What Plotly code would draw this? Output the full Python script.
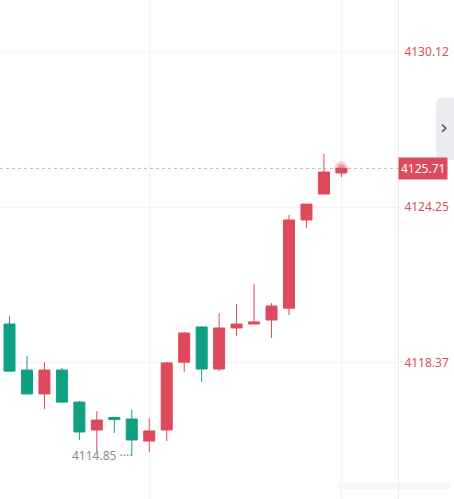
import plotly.graph_objects as go

# ---- data ----
idx = list(range(20))
opens  = [4119.83, 4118.09, 4117.19, 4118.09, 4116.88, 4115.83, 4116.30, 4116.24, 4115.41, 4115.83,
          4118.39, 4119.72, 4118.13, 4119.68, 4119.83, 4119.98, 4120.43, 4123.76, 4124.74, 4125.54]
highs  = [4120.13, 4118.62, 4118.39, 4118.17, 4116.92, 4116.54, 4116.30, 4116.58, 4116.28, 4118.39,
          4119.53, 4119.74, 4120.25, 4120.59, 4121.34, 4120.62, 4123.95, 4124.37, 4126.25, 4125.73]
lows   = [4118.03, 4117.17, 4116.62, 4116.86, 4115.45, 4115.03, 4115.71, 4114.85, 4114.99, 4115.41,
          4118.02, 4117.64, 4118.05, 4119.38, 4119.82, 4119.30, 4120.17, 4123.46, 4124.73, 4125.38]
closes = [4118.05, 4117.19, 4118.09, 4116.88, 4115.75, 4116.20, 4116.22, 4115.45, 4115.79, 4118.36,
          4119.49, 4118.13, 4119.68, 4119.83, 4119.91, 4120.51, 4123.76, 4124.36, 4125.57, 4125.71]
tick_vals = [4130.12, 4124.25, 4118.37]
tick_text = ["4130.12", "4124.25", "4118.37"]
grid_x = [8, 19]

RED = "#de4a5c"
GREEN = "#12a083"
LABEL = "#d4505e"

last_close = closes[-1]
low_val = min(lows)
low_i = lows.index(low_val)

fig = go.Figure()
fig.add_trace(go.Candlestick(
    x=idx, open=opens, high=highs, low=lows, close=closes,
    increasing=dict(line=dict(color=RED, width=1), fillcolor=RED),
    decreasing=dict(line=dict(color=GREEN, width=1), fillcolor=GREEN),
    whiskerwidth=0, hoverinfo="skip", showlegend=False,
))

# glow at the last price
fig.add_trace(go.Scatter(x=[idx[-1]], y=[last_close], mode="markers",
                         marker=dict(size=14, color="rgba(222,74,92,0.22)", line=dict(width=0)),
                         hoverinfo="skip", showlegend=False))
fig.add_trace(go.Scatter(x=[idx[-1]], y=[last_close], mode="markers",
                         marker=dict(size=8, color="rgba(222,74,92,0.45)", line=dict(width=0)),
                         hoverinfo="skip", showlegend=False))

shapes = [
    # dashed last price line
    dict(type="line", xref="paper", yref="y", x0=0, x1=1, y0=last_close, y1=last_close,
         line=dict(color="#eba3ad", width=1, dash="3px,3px"), layer="below"),
    # right side tab
    dict(type="path", xref="paper", yref="paper",
         path="M 1.16 0.804 L 1.11 0.804 Q 1.096 0.804 1.096 0.79 L 1.096 0.694 Q 1.096 0.68 1.11 0.68 L 1.16 0.68 Z",
         fillcolor="#ebebf0", line=dict(width=0), layer="below"),
    # faint watermark at the bottom right
    dict(type="rect", xref="paper", yref="paper", x0=0.85, x1=1.13, y0=0.02, y1=0.032,
         fillcolor="#f7f7f7", line=dict(width=0), layer="below"),
]

annotations = [
    dict(xref="paper", yref="y", x=1.0, y=last_close, text=f"{last_close:.2f}",
         showarrow=False, xanchor="left", yanchor="middle",
         font=dict(family="Noto Sans", size=12, color="white"),
         bgcolor=RED, borderpad=2, xshift=0),
    dict(xref="paper", yref="paper", x=1.115, y=0.745, text="›", showarrow=False,
         font=dict(family="DejaVu Sans", size=20, color="#555"), xanchor="center", yanchor="middle"),
    dict(xref="x", yref="y", x=idx[low_i], y=low_val, text=f"{low_val:.2f} ····",
         showarrow=False, xanchor="right", yanchor="middle", xshift=2,
         font=dict(family="Noto Sans", size=12, color="#8a8a8a")),
]

fig.update_layout(
    width=454, height=499,
    margin=dict(l=0, r=56, t=0, b=0),
    paper_bgcolor="white", plot_bgcolor="white",
    boxgap=0.37, boxgroupgap=0,
    shapes=shapes, annotations=annotations,
    hovermode=False,
    xaxis=dict(range=[-0.544, 22.24], rangeslider=dict(visible=False),
               tickvals=grid_x, showticklabels=False, showgrid=True,
               gridcolor="#f4f4f4", gridwidth=1, zeroline=False, showline=False, fixedrange=True),
    yaxis=dict(side="right", range=[4113.22, 4132.07], tickvals=tick_vals, ticktext=tick_text,
               showgrid=True, gridcolor="#f4f4f4", gridwidth=1, zeroline=False,
               showline=True, linecolor="#ececec", linewidth=1, ticks="", ticklabelstandoff=3,
               tickfont=dict(family="Noto Sans", size=12, color=LABEL), fixedrange=True),
)

fig.write_html("out.html", config={"displayModeBar": False})
